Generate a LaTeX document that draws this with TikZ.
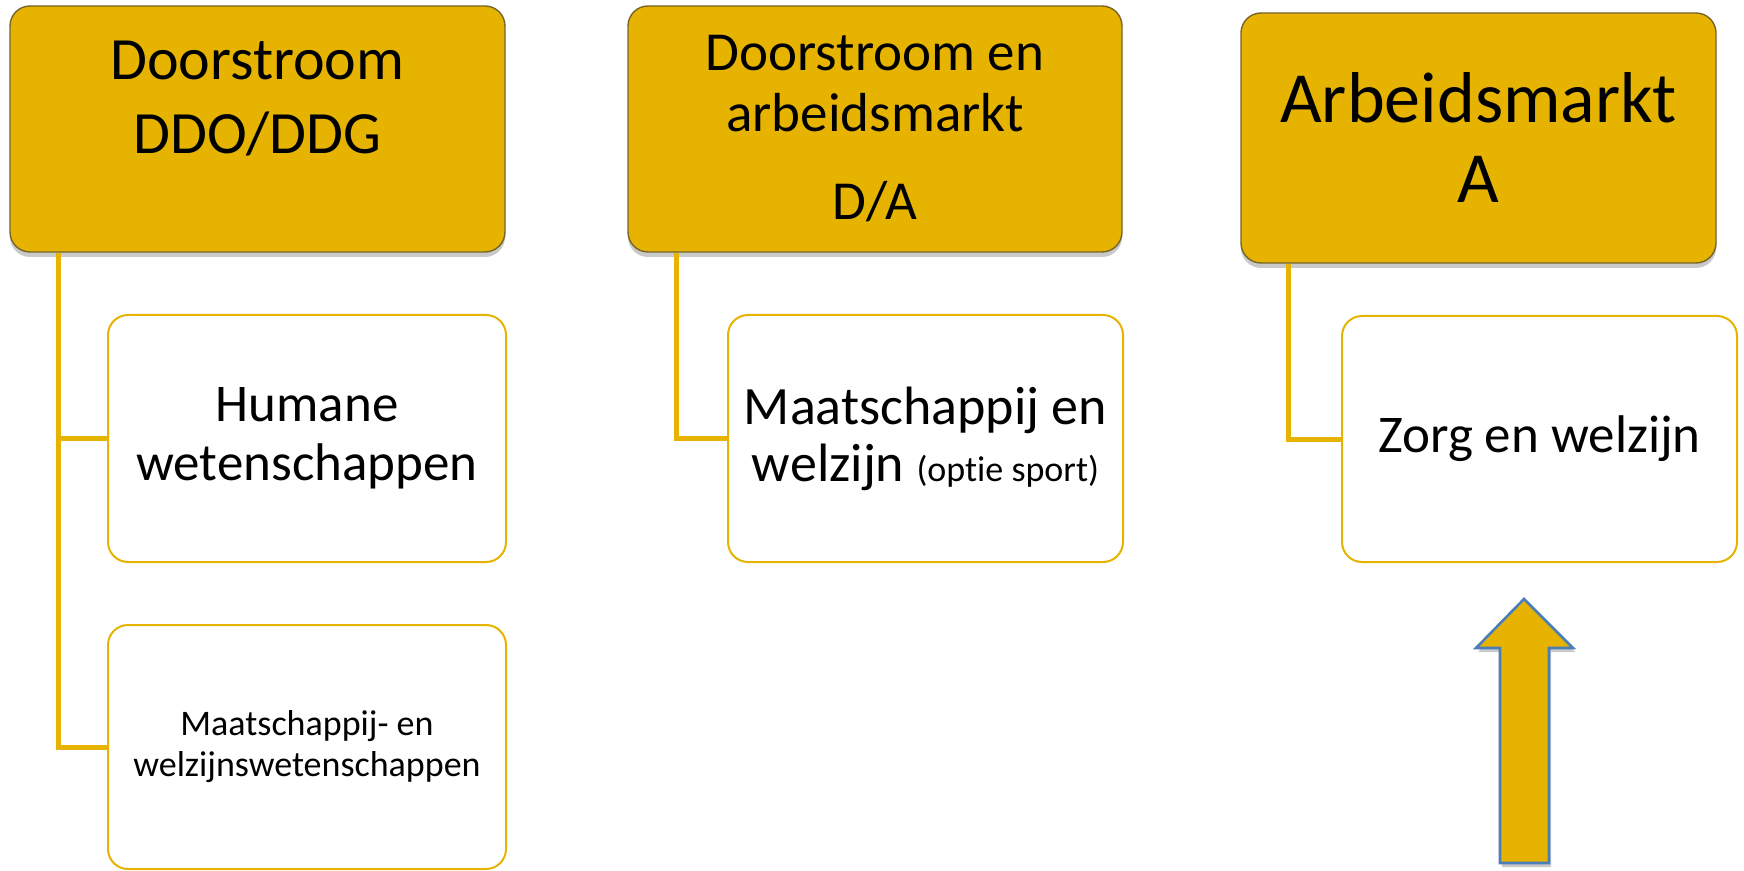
\documentclass[tikz,border=0pt]{standalone}
\usepackage{fontspec}
\setmainfont{Carlito}[Ligatures=NoCommon]
\usepackage{tikz}
\usetikzlibrary{shadows}

\definecolor{goud}{RGB}{230,180,0}
\definecolor{rand}{RGB}{118,100,40}
\definecolor{pijlrand}{RGB}{74,126,187}

\tikzset{
  kop/.style={draw=rand, line width=0.7pt, fill=goud, rounded corners=10pt,
    align=center, inner sep=0pt,
    drop shadow={shadow xshift=0pt, shadow yshift=-2.5pt, opacity=0.3, fill=black!70}},
  vak/.style={draw=goud, line width=1pt, fill=white, rounded corners=10pt,
    align=center, inner sep=0pt},
  tak/.style={draw=goud, line width=2.5pt},
  pijl/.style={draw=pijlrand, line width=1.3pt, fill=goud, line join=miter,
    drop shadow={shadow xshift=1pt, shadow yshift=-2pt, opacity=0.3, fill=black!70}}
}

\begin{document}
\begin{tikzpicture}[x=0.5pt, y=-0.5pt]
        \useasboundingbox (0,0) rectangle (1744,871);
        % Doorstroom
        \node[kop, minimum width=247.5pt, minimum height=123pt,
              font=\fontsize{30}{37}\selectfont] (ddo) at (257.5,129)
              {Doorstroom\\DDO/DDG\\[-5pt]\mbox{}};
        \node[vak, minimum width=199pt, minimum height=123.5pt,
              font=\fontsize{26.5}{29.5}\selectfont] (hw) at (307,438.5)
              {Humane\\wetenschappen};
        \node[vak, minimum width=199pt, minimum height=122pt,
              font=\fontsize{18}{20.5}\selectfont] (mw) at (307,747)
              {Maatschappij- en\\welzijnswetenschappen};
        % Doorstroom en arbeidsmarkt
        \node[kop, minimum width=247pt, minimum height=123pt,
              font=\fontsize{27.5}{30.5}\selectfont] (da) at (875,129)
              {Doorstroom en\\arbeidsmarkt\\[13.5pt]D/A};
        \node[vak, minimum width=197.5pt, minimum height=123.5pt,
              font=\fontsize{27}{28.5}\selectfont] (mwz) at (925.5,438.5)
              {Maatschappij en\\welzijn {\fontsize{18}{20}\selectfont(optie sport)}};
        % Arbeidsmarkt
        \node[kop, minimum width=237.5pt, minimum height=125pt,
              font=\fontsize{36}{40}\selectfont] (am) at (1478.5,138)
              {Arbeidsmarkt\\A};
        \node[vak, minimum width=197.5pt, minimum height=123pt,
              font=\fontsize{26.5}{29.5}\selectfont] (zw) at (1539.5,439)
              {Zorg en welzijn};

        % takken
        \draw[tak] ([xshift=24.5pt]ddo.south west) |- (hw.west);
        \draw[tak] ([xshift=24.5pt]ddo.south west) |- (mw.west);
        \draw[tak] ([xshift=24.5pt]da.south west) |- (mwz.west);
        \draw[tak] ([xshift=24pt]am.south west) |- (zw.west);

        % pijl omhoog
        \draw[pijl] (1500,863) -- (1500,648) -- (1476,648) -- (1524,599)
            -- (1573,648) -- (1549,648) -- (1549,863) -- cycle;
\end{tikzpicture}
\end{document}
